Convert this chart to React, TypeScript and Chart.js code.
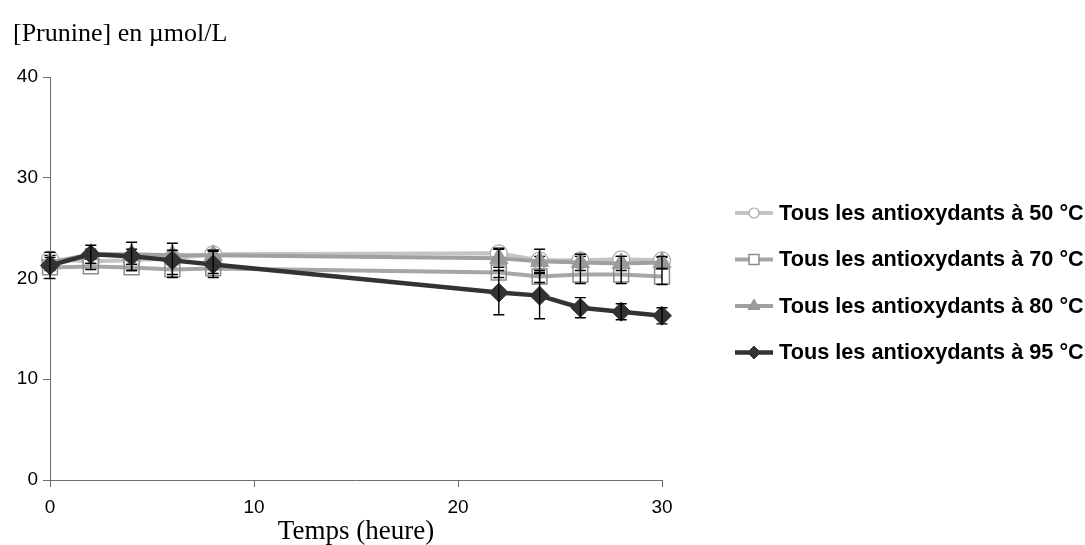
import React, { useEffect, useRef } from 'react';
import { Chart, registerables } from 'chart.js';

Chart.register(...registerables);

// ---- Data ----
const hours = [0, 2, 4, 6, 8, 22, 24, 26, 28, 30];
const values50 = [21.9, 21.7, 21.8, 22.0, 22.4, 22.5, 21.8, 21.8, 21.9, 21.8];
const values70 = [21.1, 21.2, 21.1, 20.9, 21.0, 20.6, 20.2, 20.4, 20.4, 20.2];
const values80 = [21.6, 22.4, 22.4, 22.3, 22.3, 22.0, 21.7, 21.6, 21.5, 21.6];
const values95 = [21.3, 22.4, 22.2, 21.8, 21.4, 18.6, 18.3, 17.1, 16.7, 16.3];
const errors50 = [0.4, 0.4, 0.4, 0.4, 0.4, 0.5, 0.4, 0.4, 0.3, 0.3];
const errors70 = [0.3, 0.3, 0.3, 0.5, 0.5, 0.5, 0.6, 0.9, 0.9, 0.8];
const errors80 = [0.5, 0.5, 0.5, 0.5, 0.5, 0.9, 1.2, 0.8, 0.7, 0.6];
const errors95 = [1.3, 0.9, 1.4, 1.7, 1.3, 2.2, 2.3, 1.0, 0.8, 0.8];
const seriesLabels = [
  'Tous les antioxydants à 50 °C',
  'Tous les antioxydants à 70 °C',
  'Tous les antioxydants à 80 °C',
  'Tous les antioxydants à 95 °C',
];
const yAxisTitle = '[Prunine] en µmol/L';
const xAxisTitle = 'Temps (heure)';

const seriesValues = [values50, values70, values80, values95];
const seriesErrors = [errors50, errors70, errors80, errors95];

// ---- Styles ----
const styles = [
  { line: '#c4c4c4', width: 4, point: 'circle', radius: 8.5, fill: '#ffffff', border: '#a8a8a8', bw: 1.2, lRadius: 5 },
  { line: '#a6a6a6', width: 4, point: 'rect', radius: 10.5, fill: 'rgba(255,255,255,0)', border: '#8c8c8c', bw: 1.5, lRadius: 7 },
  { line: '#a0a0a0', width: 4, point: 'triangle', radius: 10.5, fill: '#999999', border: '#999999', bw: 1, lRadius: 7 },
  { line: '#333333', width: 4.5, point: 'rectRot', radius: 9.5, fill: '#333333', border: '#333333', bw: 1, lRadius: 6.5 },
];

function drawMarker(ctx: CanvasRenderingContext2D, style: string, x: number, y: number, r: number, fill: string, stroke: string, bw: number) {
  ctx.beginPath();
  if (style === 'circle') {
    ctx.arc(x, y, r, 0, Math.PI * 2);
  } else if (style === 'rect') {
    const s = r * Math.SQRT1_2;
    ctx.rect(x - s, y - s, 2 * s, 2 * s);
  } else if (style === 'triangle') {
    let rad = 0;
    ctx.moveTo(x + Math.sin(rad) * r, y - Math.cos(rad) * r);
    rad += (Math.PI * 2) / 3;
    ctx.lineTo(x + Math.sin(rad) * r, y - Math.cos(rad) * r);
    rad += (Math.PI * 2) / 3;
    ctx.lineTo(x + Math.sin(rad) * r, y - Math.cos(rad) * r);
    ctx.closePath();
  } else {
    ctx.moveTo(x - r, y);
    ctx.lineTo(x, y - r);
    ctx.lineTo(x + r, y);
    ctx.lineTo(x, y + r);
    ctx.closePath();
  }
  ctx.fillStyle = fill;
  ctx.fill();
  ctx.lineWidth = bw;
  ctx.strokeStyle = stroke;
  ctx.stroke();
}

const errorBarPlugin = {
  id: 'errorBars',
  afterDatasetDraw(chart: any, args: any) {
    const i = args.index;
    const errs = seriesErrors[i];
    const vals = seriesValues[i];
    const xs = chart.scales.x;
    const ys = chart.scales.y;
    const ctx = chart.ctx as CanvasRenderingContext2D;
    ctx.save();
    ctx.strokeStyle = '#000000';
    ctx.lineWidth = 1.4;
    const cap = 5.5;
    hours.forEach((h, j) => {
      const x = xs.getPixelForValue(h);
      const t = ys.getPixelForValue(vals[j] + errs[j]);
      const b = ys.getPixelForValue(vals[j] - errs[j]);
      ctx.beginPath();
      ctx.moveTo(x, t);
      ctx.lineTo(x, b);
      ctx.moveTo(x - cap, t);
      ctx.lineTo(x + cap, t);
      ctx.moveTo(x - cap, b);
      ctx.lineTo(x + cap, b);
      ctx.stroke();
    });
    ctx.restore();
  },
};

const textPlugin = {
  id: 'extraText',
  afterDraw(chart: any) {
    const ctx = chart.ctx as CanvasRenderingContext2D;
    const area = chart.chartArea;
    ctx.save();
    // y axis title
    ctx.font = '26px "Liberation Serif", "Times New Roman", serif';
    ctx.fillStyle = '#000000';
    ctx.textAlign = 'left';
    ctx.textBaseline = 'alphabetic';
    ctx.fillText(yAxisTitle, 13, 41);

    // legend
    const lx = area.right + 73;
    const rowY0 = 213;
    const rowGap = 46.5;
    ctx.font = 'bold 21.7px "Liberation Sans", Arial, sans-serif';
    ctx.textBaseline = 'middle';
    seriesLabels.forEach((label, i) => {
      const st = styles[i];
      const y = rowY0 + i * rowGap;
      ctx.beginPath();
      ctx.strokeStyle = st.line;
      ctx.lineWidth = st.width;
      ctx.moveTo(lx, y);
      ctx.lineTo(lx + 38, y);
      ctx.stroke();
      drawMarker(ctx, st.point, lx + 19, y, st.lRadius, st.point === 'rect' ? '#ffffff' : st.fill, st.border, st.bw);
      ctx.fillStyle = '#000000';
      ctx.fillText(label, lx + 44, y + 1);
    });
    ctx.restore();
  },
};

export default function App() {
  const canvasRef = useRef<HTMLCanvasElement | null>(null);

  useEffect(() => {
    document.body.style.margin = '0';
    const canvas = canvasRef.current;
    if (!canvas) return;
    const datasets = seriesLabels.map((label, i) => {
      const st = styles[i];
      return {
        label,
        data: hours.map((h, j) => ({ x: h, y: seriesValues[i][j] })),
        borderColor: st.line,
        borderWidth: st.width,
        pointStyle: st.point,
        pointRadius: st.radius,
        pointBackgroundColor: st.fill,
        pointBorderColor: st.border,
        pointBorderWidth: st.bw,
        tension: 0,
        clip: false,
        order: 3 - i,
      };
    });
    const tickFont = { family: '"Liberation Sans", Arial, sans-serif', size: 19 };
    const axisColor = '#6e6e6e';
    const chart = new Chart(canvas, {
      type: 'line',
      data: { datasets } as any,
      options: {
        animation: false,
        responsive: false,
        maintainAspectRatio: false,
        layout: { padding: { top: 77, right: 423, bottom: 0, left: 0 } },
        plugins: {
          legend: { display: false },
          tooltip: { enabled: false },
          title: { display: false },
        },
        scales: {
          x: {
            type: 'linear',
            min: 0,
            max: 30,
            ticks: { stepSize: 10, color: '#000000', font: tickFont, padding: 9 },
            grid: { drawOnChartArea: false, drawTicks: true, tickLength: 7, color: axisColor },
            border: { display: true, color: axisColor, width: 1 },
            title: {
              display: true,
              text: xAxisTitle,
              color: '#000000',
              font: { family: '"Liberation Serif", "Times New Roman", serif', size: 27, lineHeight: 1 },
              padding: { top: 0, bottom: 0 },
            },
            afterFit: (scale: any) => {
              scale.height = 65;
            },
          },
          y: {
            type: 'linear',
            min: 0,
            max: 40,
            ticks: { stepSize: 10, color: '#000000', font: tickFont, padding: 5 },
            grid: { drawOnChartArea: false, drawTicks: true, tickLength: 7, color: axisColor },
            border: { display: true, color: axisColor, width: 1 },
            afterFit: (scale: any) => {
              scale.width = 50;
            },
          },
        },
      } as any,
      plugins: [errorBarPlugin, textPlugin],
    });
    return () => chart.destroy();
  }, []);

  return (
    <div style={{ width: 1085, height: 545 }}>
      <canvas ref={canvasRef} width={1085} height={545} style={{ display: 'block', width: 1085, height: 545 }} />
    </div>
  );
}
